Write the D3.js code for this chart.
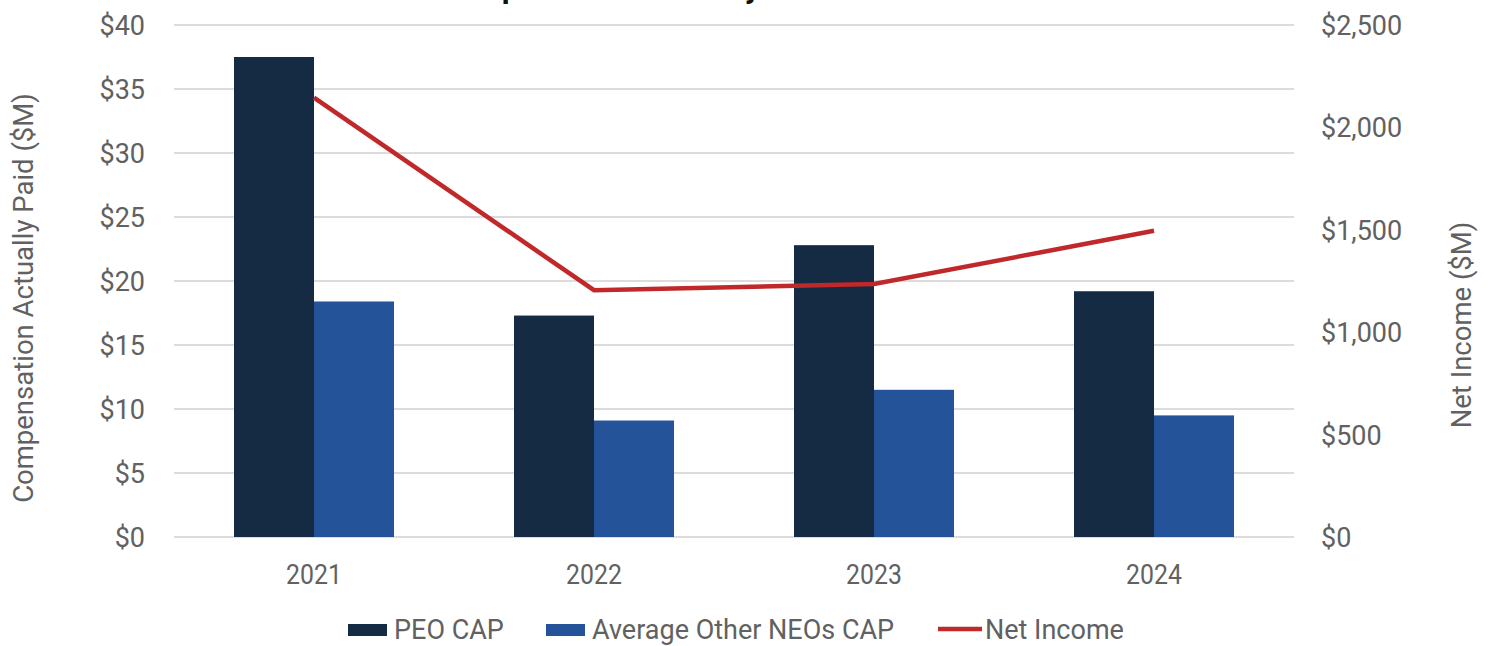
<!DOCTYPE html>
<html>
<head>
<meta charset="utf-8">
<script src="https://cdn.jsdelivr.net/npm/d3@7"></script>
<style>
  body { margin: 0; background: #fff; }
  svg text { font-family: Roboto, "Noto Sans", sans-serif; }
</style>
</head>
<body>
<div id="chart"></div>
<script>
// data
var years = ["2021", "2022", "2023", "2024"];
var peoCap = [37.5, 17.3, 22.8, 19.2];
var neoCap = [18.4, 9.1, 11.5, 9.5];
var netIncome = [2145, 1205, 1235, 1495];
var leftTicks = [0, 5, 10, 15, 20, 25, 30, 35, 40];
var rightTicks = [0, 500, 1000, 1500, 2000, 2500];

var width = 1489, height = 646,
    margin = {top: 25, left: 174, bottom: 109, right: 195},
    plotW = width - margin.left - margin.right,
    plotH = height - margin.top - margin.bottom,
    peoColor = "#142b43",
    neoColor = "#24539a",
    lineColor = "#c0282a",
    textColor = "#616161";

// narrow the text a bit, the original uses a condensed face
function condense (sel, k) {
    sel.each(function () {
        var len = this.getComputedTextLength();
        d3.select(this).attr("textLength", len * k).attr("lengthAdjust", "spacingAndGlyphs");
    });
}

var svg = d3.select("#chart").append("svg")
    .attr("width", width)
    .attr("height", height);

// title, cut off at the top edge in the original
svg.append("text")
    .text("Compensation Actually Paid vs. Net Income")
    .attr("x", 437)
    .attr("y", -2)
    .style("font-weight", "bold")
    .style("font-size", "31px")
    .attr("fill", "#111");

var g = svg.append("g")
    .attr("transform", "translate(" + margin.left + "," + margin.top + ")");

var x = d3.scaleBand().domain(years).range([0, plotW])
    .paddingInner(120 / 280).paddingOuter(60 / 280);
var x1 = d3.scaleBand().domain(["peo", "neo"]).range([0, x.bandwidth()]);
var yL = d3.scaleLinear().domain([0, 40]).range([plotH, 0]);
var yR = d3.scaleLinear().domain([0, 2500]).range([plotH, 0]);

// gridlines
g.selectAll(".grid")
    .data(leftTicks)
    .enter()
    .append("line")
    .attr("x1", 0)
    .attr("x2", plotW)
    .attr("y1", function (d) { return yL(d); })
    .attr("y2", function (d) { return yL(d); })
    .attr("stroke", "#dcdcdc")
    .attr("stroke-width", 2);

// left axis
var leftAxis = g.append("g")
    .call(d3.axisLeft(yL).tickValues(leftTicks).tickSize(0).tickPadding(29)
        .tickFormat(function (d) { return "$" + d; }));
leftAxis.select(".domain").remove();
leftAxis.selectAll("text").attr("fill", textColor).style("font-size", "27px")
    .style("font-family", "Roboto, sans-serif")
    .attr("dy", "0.35em");

// right axis
var rightAxis = g.append("g")
    .attr("transform", "translate(" + plotW + ",0)")
    .call(d3.axisRight(yR).tickValues(rightTicks).tickSize(0).tickPadding(27)
        .tickFormat(function (d) { return "$" + d3.format(",")(d); }));
rightAxis.select(".domain").remove();
rightAxis.selectAll("text").attr("fill", textColor).style("font-size", "27px")
    .style("font-family", "Roboto, sans-serif")
    .attr("dy", "0.35em");

// x axis labels
var xAxis = g.append("g")
    .attr("transform", "translate(0," + plotH + ")")
    .call(d3.axisBottom(x).tickSize(0).tickPadding(28));
xAxis.select(".domain").remove();
xAxis.selectAll("text").attr("fill", textColor).style("font-size", "27px")
    .style("font-family", "Roboto, sans-serif")
    .call(condense, 0.92);

// bars
var groups = g.selectAll(".yr")
    .data(years)
    .enter()
    .append("g")
    .attr("transform", function (d) { return "translate(" + x(d) + ",0)"; });

groups.append("rect")
    .attr("x", x1("peo"))
    .attr("width", x1.bandwidth())
    .attr("y", function (d, i) { return yL(peoCap[i]); })
    .attr("height", function (d, i) { return plotH - yL(peoCap[i]); })
    .attr("fill", peoColor);

groups.append("rect")
    .attr("x", x1("neo"))
    .attr("width", x1.bandwidth())
    .attr("y", function (d, i) { return yL(neoCap[i]); })
    .attr("height", function (d, i) { return plotH - yL(neoCap[i]); })
    .attr("fill", neoColor);

// net income line
var line = d3.line()
    .x(function (d, i) { return x(years[i]) + x.bandwidth() / 2; })
    .y(function (d) { return yR(d); });

g.append("path")
    .datum(netIncome)
    .attr("d", line)
    .attr("fill", "none")
    .attr("stroke", lineColor)
    .attr("stroke-width", 4.5);

// axis titles
svg.append("text")
    .text("Compensation Actually Paid ($M)")
    .attr("transform", "translate(33,298) rotate(-90)")
    .attr("text-anchor", "middle")
    .style("font-size", "27.5px")
    .attr("fill", textColor);

svg.append("text")
    .text("Net Income ($M)")
    .attr("transform", "translate(1471,325) rotate(-90)")
    .attr("text-anchor", "middle")
    .style("font-size", "27.5px")
    .attr("fill", textColor);

// legend
var legendItems = [
    {label: "PEO CAP", color: peoColor, type: "rect", x: 348},
    {label: "Average Other NEOs CAP", color: neoColor, type: "rect", x: 546},
    {label: "Net Income", color: lineColor, type: "line", x: 938}
];
var legend = svg.selectAll(".legend")
    .data(legendItems)
    .enter()
    .append("g")
    .attr("transform", function (d) { return "translate(" + d.x + ",630)"; });

legend.filter(function (d) { return d.type === "rect"; })
    .append("rect")
    .attr("x", 0).attr("y", -6)
    .attr("width", 39).attr("height", 12)
    .attr("fill", function (d) { return d.color; });

legend.filter(function (d) { return d.type === "line"; })
    .append("line")
    .attr("x1", 0).attr("x2", 44)
    .attr("y1", -1).attr("y2", -1)
    .attr("stroke", function (d) { return d.color; })
    .attr("stroke-width", 4.5);

legend.append("text")
    .text(function (d) { return d.label; })
    .attr("x", function (d) { return d.type === "line" ? 47 : 46; })
    .attr("dy", "0.35em")
    .style("font-size", "27px")
    .attr("fill", textColor);
</script>
</body>
</html>
